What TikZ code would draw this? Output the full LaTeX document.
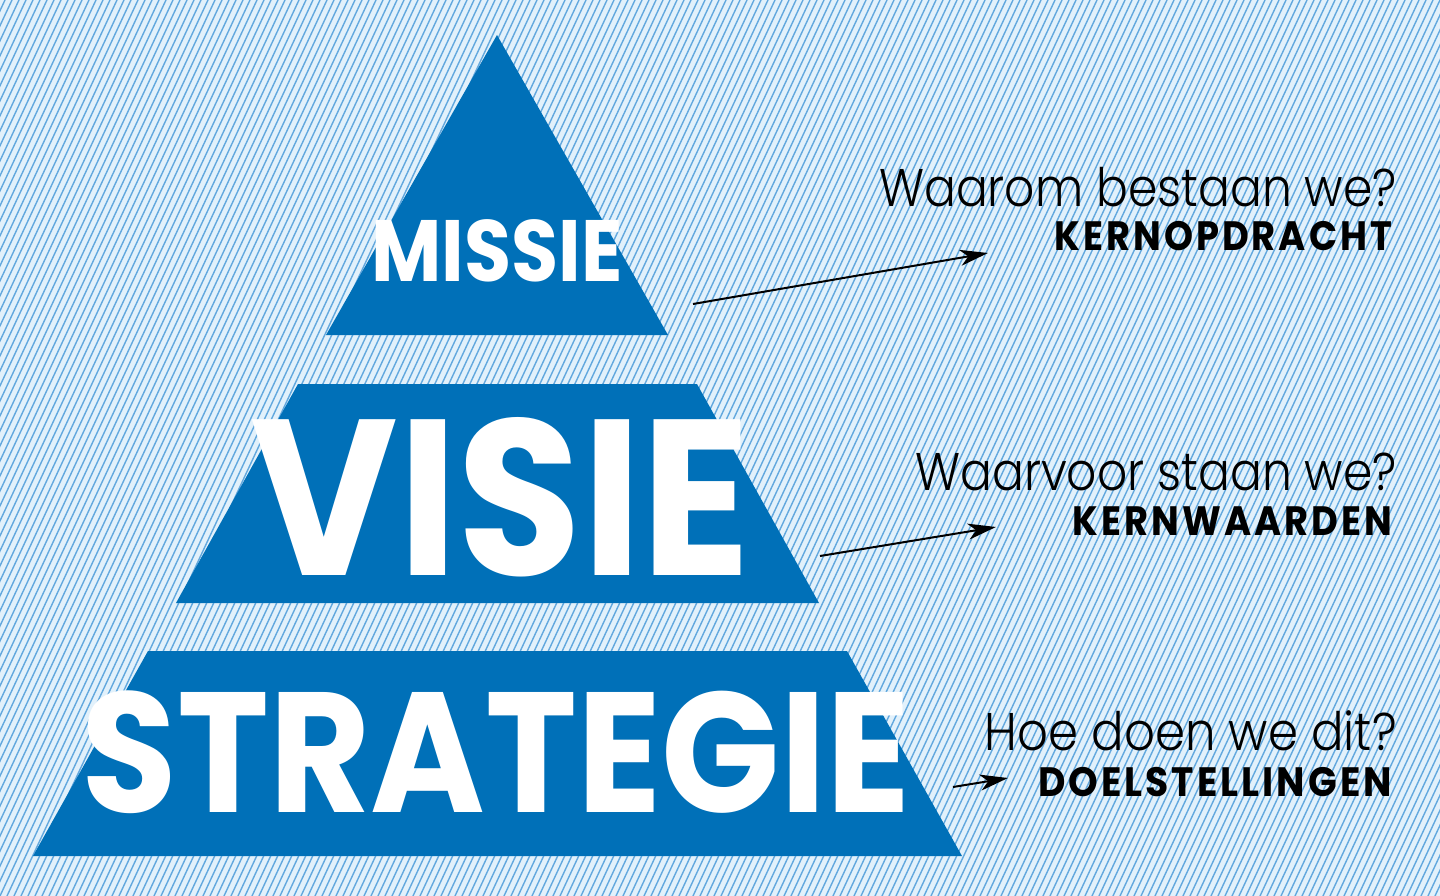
\documentclass[tikz,border=0pt]{standalone}
\usepackage{graphicx}
\usepackage{fontspec}
\setmainfont{Poppins}
\newfontfamily\lightfont{Poppins Light}
\newfontfamily\heavyfont{Poppins Bold}
\newfontfamily\spacedfont{Poppins Bold}[LetterSpace=8]
\usetikzlibrary{arrows.meta}

\definecolor{pyrblue}{RGB}{0,112,184}
\definecolor{paleblue}{RGB}{226,241,251}
\definecolor{hatchblue}{RGB}{98,168,222}

% horizontal squeeze of a label
\newcommand{\narrow}[2]{\scalebox{#1}[1]{#2}}

\tikzset{
    layer/.style={fill=pyrblue},
    pyrlabel/.style={text=white, inner sep=0, anchor=base, font=\heavyfont\fontsize{#1}{#1}\selectfont},
    question/.style={inner sep=0, anchor=base east, font=\lightfont\fontsize{53}{53}\selectfont},
    keyword/.style={inner sep=0, anchor=base east, font=\spacedfont\fontsize{41}{41}\selectfont},
    pointer/.style={-{Stealth[length=28pt, width=16pt, inset=8pt]}, line width=2pt, black}
}

\begin{document}
\begin{tikzpicture}[x=1pt, y=-1pt]

    \useasboundingbox (0,0) rectangle (1440,896);

    % Hatched background
    \begin{scope}
        \clip (0,0) rectangle (1440,896);
        \fill[paleblue] (0,0) rectangle (1440,896);
        \foreach \x in {-420,-413,...,1440} {
            \draw[hatchblue, line width=1.4pt] (\x,896) -- ++(418,-896);
        }
    \end{scope}

    % Pyramid layers
    \fill[layer] (497,35) -- (668,335) -- (326,335) -- cycle;
    \fill[layer] (298,384) -- (697,384) -- (819,603) -- (176,603) -- cycle;
    \fill[layer] (148,651) -- (847,651) -- (962,856) -- (33,856) -- cycle;

    \node[pyrlabel=87] (missie) at (497,281) {\narrow{0.88}{MISSIE}};
    \node[pyrlabel=222] (visie) at (501,575) {\narrow{0.91}{VISIE}};
    \node[pyrlabel=171] (strategie) at (496,812) {\narrow{0.91}{STRATEGIE}};

    % Questions and keywords
    \node[question] (waarom) at (1397,207) {\narrow{0.89}{Waarom bestaan we?}};
    \node[keyword] (kernopdracht) at (1392,251) {\narrow{0.9}{KERNOPDRACHT}};

    \node[question] (waarvoor) at (1397,490) {\narrow{0.89}{Waarvoor staan we?}};
    \node[keyword] (kernwaarden) at (1392,535) {\narrow{0.9}{KERNWAARDEN}};

    \node[question] (hoe) at (1397,750) {\narrow{0.91}{Hoe doen we dit?}};
    \node[keyword] (doelstellingen) at (1392,796) {\narrow{0.92}{DOELSTELLINGEN}};

    % Pointers
    \coordinate (missiefrom) at (693,304);
    \coordinate (missieto) at (988,253);
    \coordinate (visiefrom) at (820,556);
    \coordinate (visieto) at (996,527);
    \coordinate (strategiefrom) at (953,787);
    \coordinate (strategieto) at (1008,778);

    \draw[pointer] (missiefrom) -- (missieto);
    \draw[pointer] (visiefrom) -- (visieto);
    \draw[pointer] (strategiefrom) -- (strategieto);

\end{tikzpicture}
\end{document}
